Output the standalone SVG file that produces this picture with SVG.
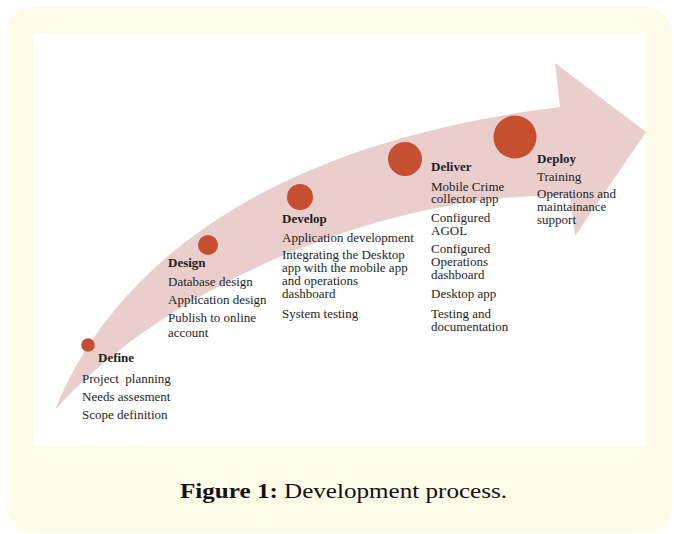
<svg xmlns="http://www.w3.org/2000/svg" width="674" height="534" viewBox="0 0 674 534">
  <style>
    .panel { fill: #fffbe8; }
    .canvas { fill: #ffffff; }
    .band { fill: #e9cecb; }
    .dot { fill: #c54f30; }
    .lbl { font-family: "Liberation Serif", "Times New Roman", serif; font-size: 13px; fill: #1e1e1e; }
    .head { font-weight: bold; }
    .cap { font-family: "Liberation Serif", "Times New Roman", serif; font-size: 22px; fill: #111111; }
  </style>

  <!-- outer frame and white drawing area -->
  <rect class="panel" x="7" y="7" width="665" height="526" rx="26" ry="26"/>
  <rect class="canvas" x="33" y="33" width="613" height="413"/>

  <!-- curved progress arrow -->
  <g id="connectors">
    <path class="band" d="M55,410 C120,250 290,140 560,107 L555,63 L646,132 L575,236 L570,196 C400,190 170,280 55,410 Z"/>
  </g>

  <g id="stage-define">
    <circle class="dot" cx="88" cy="345" r="6.8"/>
    <text class="lbl head" x="98" y="362">Define</text>
    <text class="lbl" x="82" y="383" xml:space="preserve">Project  planning</text>
    <text class="lbl" x="82" y="401">Needs  assesment</text>
    <text class="lbl" x="82" y="419">Scope definition</text>
  </g>

  <g id="stage-design">
    <circle class="dot" cx="208" cy="245" r="10"/>
    <text class="lbl head" x="168" y="267">Design</text>
    <text class="lbl" x="168" y="286">Database design</text>
    <text class="lbl" x="168" y="304">Application design</text>
    <text class="lbl" x="168" y="322">Publish to online</text>
    <text class="lbl" x="168" y="337">account</text>
  </g>

  <g id="stage-develop">
    <circle class="dot" cx="300" cy="197" r="13"/>
    <text class="lbl head" x="282" y="223">Develop</text>
    <text class="lbl" x="282" y="242">Application development</text>
    <text class="lbl" x="282" y="259">Integrating the Desktop</text>
    <text class="lbl" x="282" y="272">app with the mobile app</text>
    <text class="lbl" x="282" y="285">and operations</text>
    <text class="lbl" x="282" y="298">dashboard</text>
    <text class="lbl" x="282" y="318">System testing</text>
  </g>

  <g id="stage-deliver">
    <circle class="dot" cx="405" cy="159" r="17"/>
    <text class="lbl head" x="431" y="171">Deliver</text>
    <text class="lbl" x="431" y="191">Mobile Crime</text>
    <text class="lbl" x="431" y="203">collector app</text>
    <text class="lbl" x="431" y="222">Configured</text>
    <text class="lbl" x="431" y="235">AGOL</text>
    <text class="lbl" x="431" y="253">Configured</text>
    <text class="lbl" x="431" y="266">Operations</text>
    <text class="lbl" x="431" y="279">dashboard</text>
    <text class="lbl" x="431" y="298">Desktop app</text>
    <text class="lbl" x="431" y="318">Testing and</text>
    <text class="lbl" x="431" y="331">documentation</text>
  </g>

  <g id="stage-deploy">
    <circle class="dot" cx="515" cy="137" r="21.5"/>
    <text class="lbl head" x="537" y="163">Deploy</text>
    <text class="lbl" x="537" y="181">Training</text>
    <text class="lbl" x="537" y="198">Operations and</text>
    <text class="lbl" x="537" y="211">maintainance</text>
    <text class="lbl" x="537" y="224">support</text>
  </g>

  <!-- caption -->
  <text class="cap" x="180" y="498" textLength="327" lengthAdjust="spacingAndGlyphs"><tspan font-weight="bold">Figure 1:</tspan> Development process.</text>
</svg>
